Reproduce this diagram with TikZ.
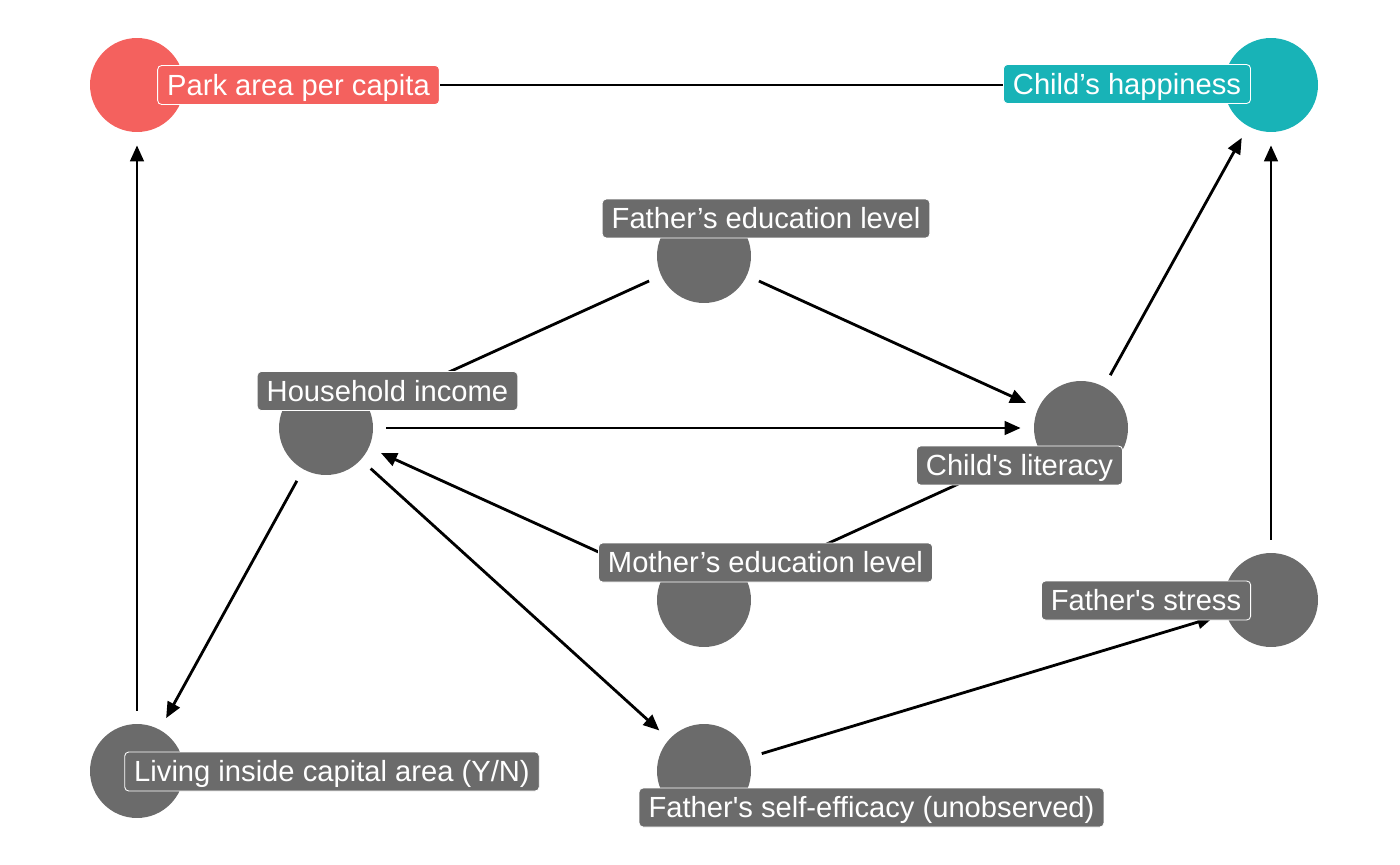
\documentclass[tikz,border=0pt]{standalone}
\usetikzlibrary{arrows.meta, positioning}
\usepackage{xcolor}
\usepackage{fontspec}
\setmainfont{Liberation Sans}[Ligatures=TeXOff]
\definecolor{exposure}{HTML}{F4615E}
\definecolor{outcome}{HTML}{18B3B7}
\definecolor{latent}{HTML}{6B6B6B}
\def\nodesize{1.88cm}

\begin{document}
\begin{tikzpicture}[x=0.02cm,y=-0.02cm]
    \tikzstyle{dag node}=[circle,fill=latent,minimum size=\nodesize,inner sep=0pt]
    \tikzstyle{exposure node}=[dag node, fill=exposure]
    \tikzstyle{outcome node}=[dag node, fill=outcome]
    \tikzstyle{tag}=[fill=latent,draw=white,line width=0.5pt,rounded corners=0.08cm,text=white,font=\fontsize{16.6}{20}\selectfont,inner xsep=0.19cm,inner ysep=0pt,text height=11.9pt,text depth=0pt,minimum height=0.78cm]
    \tikzstyle{effect}=[line width=1.6pt,-{Triangle[length=0.32cm,width=0.27cm]},shorten >=0.26cm,shorten <=0.26cm]

    \useasboundingbox (0,0) rectangle (1400,865);

    \node[exposure node] (park) at (137,85) {};
    \node[outcome node] (happy) at (1271,85) {};
    \node[dag node] (fedu) at (704,256) {};
    \node[dag node] (income) at (326,428) {};
    \node[dag node] (literacy) at (1081,428) {};
    \node[dag node] (medu) at (704,600) {};
    \node[dag node] (stress) at (1271,600) {};
    \node[dag node] (capital) at (137,771) {};
    \node[dag node] (efficacy) at (704,771) {};

    \draw[effect] (park) -- (happy);
    \draw[effect] (fedu) -- (income);
    \draw[effect] (fedu) -- (literacy);
    \draw[effect] (income) -- (literacy);
    \draw[effect] (income) -- (capital);
    \draw[effect] (income) -- (efficacy);
    \draw[effect] (medu) -- (income);
    \draw[effect] (medu) -- (literacy);
    \draw[effect] (capital) -- (park);
    \draw[effect] (efficacy) -- (stress);
    \draw[effect] (stress) -- (happy);
    \draw[effect] (literacy) -- (happy);

    % labels on top
    \node[tag, fill=exposure] (park-lbl) at (298.5,85) {Park area per capita};
    \node[tag, fill=outcome] (happy-lbl) at (1127,84) {Child’s happiness};
    \node[tag] (fedu-lbl) at (766,218.5) {Father’s education level};
    \node[tag] (income-lbl) at (387.5,391) {Household income};
    \node[tag] (literacy-lbl) at (1019.5,465.5) {Child's literacy};
    \node[tag] (medu-lbl) at (765.5,562.5) {Mother’s education level};
    \node[tag] (stress-lbl) at (1146,600.5) {Father's stress};
    \node[tag] (capital-lbl) at (332,771.5) {Living inside capital area (Y/N)};
    \node[tag] (efficacy-lbl) at (871.5,807.5) {Father's self-efficacy (unobserved)};
\end{tikzpicture}
\end{document}
